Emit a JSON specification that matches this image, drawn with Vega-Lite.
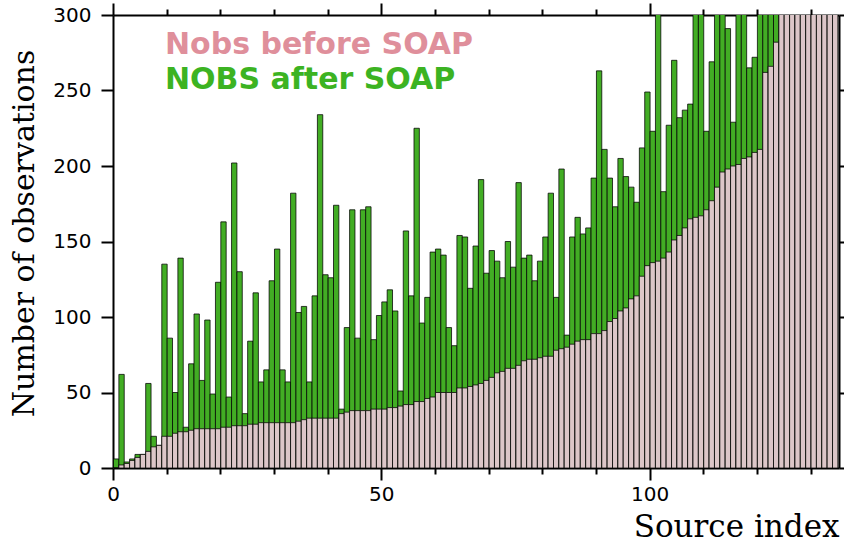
{
  "$schema": "https://vega.github.io/schema/vega-lite/v6.json",
  "autosize": {"type": "none"},
  "padding": {"left": 113, "top": 15, "right": 5, "bottom": 77},
  "width": 726,
  "height": 453,
  "background": "white",
  "config": {
    "view": {"stroke": null},
    "axis": {
      "domainColor": "black", "domainWidth": 2, "tickColor": "black", "tickWidth": 2,
      "labelColor": "black", "titleColor": "black", "grid": false,
      "labelFont": "DejaVu Sans", "labelFontSize": 20,
      "titleFont": "DejaVu Serif", "titleFontSize": 30, "titleFontWeight": "normal"
    }
  },
  "datasets": {
    "src": [
      {"i":0,"before":0,"after":6},{"i":1,"before":2,"after":62},{"i":2,"before":3,"after":4},{"i":3,"before":5,"after":6},{"i":4,"before":7,"after":9},
      {"i":5,"before":9,"after":9},{"i":6,"before":11,"after":56},{"i":7,"before":14,"after":21},{"i":8,"before":15,"after":15},{"i":9,"before":21,"after":135},
      {"i":10,"before":21,"after":86},{"i":11,"before":23,"after":50},{"i":12,"before":24,"after":139},{"i":13,"before":24,"after":27},{"i":14,"before":25,"after":69},
      {"i":15,"before":26,"after":102},{"i":16,"before":26,"after":58},{"i":17,"before":26,"after":98},{"i":18,"before":26,"after":49},{"i":19,"before":26,"after":123},
      {"i":20,"before":27,"after":163},{"i":21,"before":27,"after":47},{"i":22,"before":28,"after":202},{"i":23,"before":28,"after":130},{"i":24,"before":28,"after":36},
      {"i":25,"before":29,"after":84},{"i":26,"before":29,"after":116},{"i":27,"before":30,"after":57},{"i":28,"before":30,"after":65},{"i":29,"before":30,"after":124},
      {"i":30,"before":30,"after":145},{"i":31,"before":30,"after":65},{"i":32,"before":30,"after":57},{"i":33,"before":30,"after":182},{"i":34,"before":31,"after":103},
      {"i":35,"before":32,"after":107},{"i":36,"before":33,"after":57},{"i":37,"before":33,"after":114},{"i":38,"before":33,"after":234},{"i":39,"before":33,"after":128},
      {"i":40,"before":33,"after":126},{"i":41,"before":33,"after":174},{"i":42,"before":36,"after":39},{"i":43,"before":37,"after":93},{"i":44,"before":38,"after":171},
      {"i":45,"before":38,"after":86},{"i":46,"before":38,"after":171},{"i":47,"before":38,"after":173},{"i":48,"before":39,"after":85},{"i":49,"before":39,"after":101},
      {"i":50,"before":39,"after":110},{"i":51,"before":40,"after":118},{"i":52,"before":40,"after":104},{"i":53,"before":41,"after":51},{"i":54,"before":42,"after":157},
      {"i":55,"before":42,"after":114},{"i":56,"before":44,"after":225},{"i":57,"before":44,"after":96},{"i":58,"before":46,"after":113},{"i":59,"before":47,"after":143},
      {"i":60,"before":50,"after":145},{"i":61,"before":50,"after":141},{"i":62,"before":50,"after":93},{"i":63,"before":50,"after":81},{"i":64,"before":53,"after":154},
      {"i":65,"before":53,"after":153},{"i":66,"before":54,"after":119},{"i":67,"before":55,"after":147},{"i":68,"before":56,"after":191},{"i":69,"before":58,"after":129},
      {"i":70,"before":60,"after":144},{"i":71,"before":63,"after":137},{"i":72,"before":64,"after":126},{"i":73,"before":66,"after":150},{"i":74,"before":66,"after":133},
      {"i":75,"before":68,"after":189},{"i":76,"before":71,"after":139},{"i":77,"before":72,"after":141},{"i":78,"before":72,"after":124},{"i":79,"before":73,"after":137},
      {"i":80,"before":74,"after":153},{"i":81,"before":74,"after":182},{"i":82,"before":78,"after":113},{"i":83,"before":79,"after":198},{"i":84,"before":80,"after":88},
      {"i":85,"before":82,"after":153},{"i":86,"before":84,"after":166},{"i":87,"before":85,"after":155},{"i":88,"before":85,"after":159},{"i":89,"before":89,"after":192},
      {"i":90,"before":89,"after":263},{"i":91,"before":91,"after":211},{"i":92,"before":97,"after":192},{"i":93,"before":99,"after":173},{"i":94,"before":104,"after":205},
      {"i":95,"before":106,"after":193},{"i":96,"before":112,"after":186},{"i":97,"before":114,"after":176},{"i":98,"before":127,"after":212},{"i":99,"before":134,"after":249},
      {"i":100,"before":136,"after":223},{"i":101,"before":137,"after":320},{"i":102,"before":139,"after":183},{"i":103,"before":143,"after":227},{"i":104,"before":151,"after":270},
      {"i":105,"before":154,"after":232},{"i":106,"before":159,"after":237},{"i":107,"before":165,"after":241},{"i":108,"before":166,"after":320},{"i":109,"before":167,"after":320},
      {"i":110,"before":171,"after":223},{"i":111,"before":177,"after":269},{"i":112,"before":186,"after":320},{"i":113,"before":196,"after":320},{"i":114,"before":198,"after":291},
      {"i":115,"before":200,"after":229},{"i":116,"before":201,"after":320},{"i":117,"before":205,"after":320},{"i":118,"before":206,"after":265},{"i":119,"before":209,"after":272},
      {"i":120,"before":211,"after":320},{"i":121,"before":262,"after":340},{"i":122,"before":266,"after":350},{"i":123,"before":282,"after":360},{"i":124,"before":310,"after":380},
      {"i":125,"before":330,"after":400},{"i":126,"before":350,"after":420},{"i":127,"before":380,"after":450},{"i":128,"before":400,"after":480},{"i":129,"before":430,"after":510},
      {"i":130,"before":470,"after":550},{"i":131,"before":520,"after":600},{"i":132,"before":600,"after":680},{"i":133,"before":700,"after":780},{"i":134,"before":900,"after":980}
    ]
  },
  "data": {"name": "src"},
  "transform": [{"fold": ["after", "before"], "as": ["series", "nobs"]}],
  "layer": [
    {
      "mark": {"type": "bar", "clip": true, "binSpacing": 0, "stroke": "black", "strokeWidth": 1, "strokeOpacity": 0.75},
      "encoding": {
        "x": {
          "field": "i", "type": "quantitative", "bin": {"binned": true, "step": 1},
          "scale": {"domain": [0, 135.3], "nice": false, "zero": false},
          "axis": {
            "orient": "bottom", "title": "Source index", "titleFontSize": 31,
            "values": [0,10,20,30,40,50,60,70,80,90,100,110,120,130],
            "labelExpr": "datum.value % 50 == 0 ? datum.label : ''",
            "tickSize": {"condition": {"test": "datum.value % 50 == 0", "value": 12}, "value": 6},
            "labelPadding": 4, "labelFlush": false, "labelOverlap": false,
            "titleX": 726, "titleY": 68, "titleAlign": "right", "titleBaseline": "alphabetic"
          }
        },
        "y": {
          "field": "nobs", "type": "quantitative", "stack": null,
          "scale": {"domain": [0, 300], "nice": false},
          "axis": {
            "orient": "left", "title": "Number of observations",
            "values": [0,50,100,150,200,250,300], "tickSize": 12, "labelPadding": 10,
            "titleAngle": -90, "titleX": -89, "titleY": 218, "titleAlign": "center", "titleBaseline": "middle"
          }
        },
        "color": {
          "field": "series", "type": "nominal",
          "scale": {"domain": ["before", "after"], "range": ["#dcc6c8", "#42ad24"]},
          "legend": {
            "orient": "none", "legendX": 22, "legendY": 15, "title": null,
            "symbolSize": 0, "symbolOpacity": 0, "symbolStrokeWidth": 0, "labelOffset": 0,
            "labelFont": "DejaVu Sans", "labelFontWeight": "bold", "labelFontSize": 30,
            "labelLimit": 500, "rowPadding": 5,
            "labelExpr": "datum.value == 'after' ? 'NOBS after SOAP' : 'Nobs before SOAP'",
            "labelColor": {"expr": "datum.value == 'after' ? '#3cb322' : '#df8f9b'"}
          }
        }
      }
    },
    {
      "mark": {"type": "point", "opacity": 0, "clip": true},
      "encoding": {
        "x": {
          "field": "i", "type": "quantitative",
          "axis": {
            "orient": "top", "title": null, "labels": false,
            "values": [0,10,20,30,40,50,60,70,80,90,100,110,120,130],
            "tickSize": {"condition": {"test": "datum.value % 50 == 0", "value": 12}, "value": 6}
          }
        },
        "y": {
          "field": "nobs", "type": "quantitative",
          "axis": {"orient": "right", "title": null, "labels": false, "values": [0,50,100,150,200,250,300], "tickSize": 12}
        }
      }
    }
  ],
  "resolve": {"axis": {"x": "independent", "y": "independent"}}
}
